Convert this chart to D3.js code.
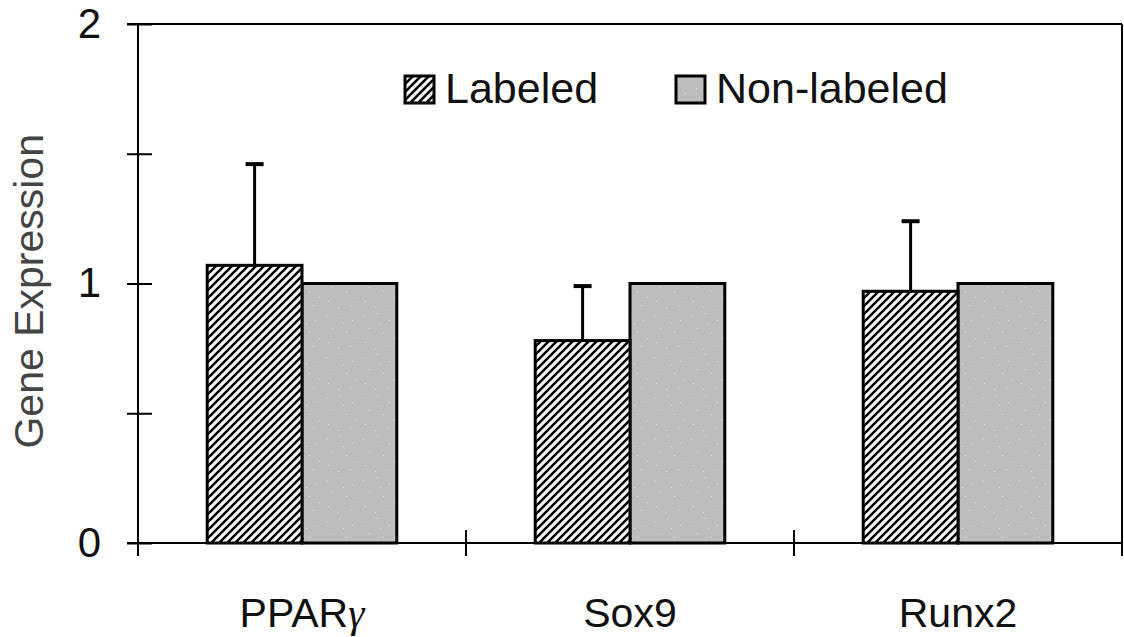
<!DOCTYPE html>
<html>
<head>
<meta charset="utf-8">
<script src="https://cdn.jsdelivr.net/npm/d3@7"></script>
<style>
  body { margin: 0; background: #fff; }
  svg { display: block; font-family: "Liberation Sans", Arial, sans-serif; }
</style>
</head>
<body>
<div id="chart"></div>
<script>
// Dados
const genes = ["PPARγ", "Sox9", "Runx2"];
const series = ["Labeled", "Non-labeled"];
const labeledValues = [1.07, 0.78, 0.97];
const labeledErrors = [0.39, 0.21, 0.27];
const nonLabeledValues = [1.0, 1.0, 1.0];
const yTicks = [0, 0.5, 1, 1.5, 2];

const width = 1124, height = 637;
const margin = { top: 24, right: 2, bottom: 94, left: 138 };
const innerW = width - margin.left - margin.right;
const innerH = height - margin.top - margin.bottom;

const svg = d3.select("#chart").append("svg")
    .attr("width", width)
    .attr("height", height);

// Padrões (hachura e cinza pontilhado)
const defs = svg.append("defs");
const hatch = defs.append("pattern")
    .attr("id", "hatch")
    .attr("patternUnits", "userSpaceOnUse")
    .attr("width", 8).attr("height", 8);
hatch.append("rect").attr("width", 8).attr("height", 8).attr("fill", "#fff");
hatch.append("path")
    .attr("d", "M-2,2 L2,-2 M0,8 L8,0 M6,10 L10,6")
    .attr("stroke", "#000")
    .attr("stroke-width", 2.6);

const speck = defs.append("pattern")
    .attr("id", "speck")
    .attr("patternUnits", "userSpaceOnUse")
    .attr("width", 37).attr("height", 41);
speck.append("rect").attr("width", 37).attr("height", 41).attr("fill", "#bdbdbd");
speck.append("path")
    .attr("d", "M3,5h1v1h-1z M17,2h1v1h-1z M29,9h1v1h-1z M9,17h1v1h-1z M23,21h1v1h-1z M33,27h1v1h-1z M5,31h1v1h-1z M15,37h1v1h-1z M27,35h1v1h-1z M20,12h1v1h-1z")
    .attr("fill", "#e2e2e2");

const g = svg.append("g").attr("transform", `translate(${margin.left},${margin.top})`);

// Escalas
const x0 = d3.scaleBand().domain(genes).range([0, innerW]);
const x1 = d3.scaleBand().domain(series).range([0, x0.bandwidth()]).paddingInner(0).paddingOuter(0.73);
const y = d3.scaleLinear().domain([0, 2]).range([innerH, 0]);

// Moldura (topo e direita)
g.append("line").attr("x1", -11).attr("x2", innerW).attr("y1", 0).attr("y2", 0)
    .attr("stroke", "#000").attr("stroke-width", 2);
g.append("line").attr("x1", innerW).attr("x2", innerW).attr("y1", 0).attr("y2", innerH + 13)
    .attr("stroke", "#000").attr("stroke-width", 2);

// Eixo Y
const yAxis = g.append("g")
    .call(d3.axisLeft(y).tickValues(yTicks).tickSize(11).tickPadding(26)
        .tickFormat(d => Number.isInteger(d) ? d : ""));
yAxis.select(".domain").remove();
yAxis.selectAll(".tick line").attr("x2", 14).attr("x1", -11).attr("stroke-width", 2);
yAxis.selectAll(".tick text").attr("font-size", 42).attr("fill", "#111")
    .attr("font-family", "Liberation Sans, Arial, sans-serif");
g.append("line").attr("x1", 0).attr("x2", 0).attr("y1", 0).attr("y2", innerH + 13)
    .attr("stroke", "#000").attr("stroke-width", 2);

// Eixo X
g.append("line").attr("x1", -11).attr("x2", innerW).attr("y1", innerH).attr("y2", innerH)
    .attr("stroke", "#000").attr("stroke-width", 2);
g.selectAll(".xtick")
    .data(genes.slice(1).map(d => x0(d)).concat([innerW]))
    .enter().append("line")
    .attr("x1", d => d).attr("x2", d => d)
    .attr("y1", innerH - 13).attr("y2", innerH + 13)
    .attr("stroke", "#000").attr("stroke-width", 2);

const catLabels = g.selectAll(".cat")
    .data(genes)
    .enter().append("text")
    .attr("x", d => x0(d) + x0.bandwidth() / 2)
    .attr("y", innerH + 84)
    .attr("text-anchor", "middle")
    .attr("font-size", 41)
    .attr("fill", "#111");
catLabels.each(function(d) {
    const t = d3.select(this);
    if (d.endsWith("γ")) {
        t.append("tspan").text(d.slice(0, -1));
        t.append("tspan").text("γ").attr("font-family", "Liberation Serif, serif").attr("font-style", "italic");
    } else {
        t.text(d);
    }
});

// Rótulo do eixo Y
svg.append("text")
    .attr("transform", `translate(43,${margin.top + y(0.97)}) rotate(-90)`)
    .attr("text-anchor", "middle")
    .attr("font-size", 41)
    .attr("fill", "#444")
    .text("Gene Expression");

// Barras
const groups = g.selectAll(".grp")
    .data(genes)
    .enter().append("g")
    .attr("transform", d => `translate(${x0(d)},0)`);

groups.append("rect")
    .attr("x", x1("Non-labeled"))
    .attr("width", x1.bandwidth())
    .attr("y", (d, i) => y(nonLabeledValues[i]))
    .attr("height", (d, i) => y(0) - y(nonLabeledValues[i]))
    .attr("fill", "url(#speck)")
    .attr("stroke", "#000").attr("stroke-width", 3);

groups.append("rect")
    .attr("x", x1("Labeled"))
    .attr("width", x1.bandwidth())
    .attr("y", (d, i) => y(labeledValues[i]))
    .attr("height", (d, i) => y(0) - y(labeledValues[i]))
    .attr("fill", "url(#hatch)")
    .attr("stroke", "#000").attr("stroke-width", 3);

// Barras de erro
const cx = x1("Labeled") + x1.bandwidth() / 2;
groups.append("line")
    .attr("x1", cx).attr("x2", cx)
    .attr("y1", (d, i) => y(labeledValues[i]))
    .attr("y2", (d, i) => y(labeledValues[i] + labeledErrors[i]))
    .attr("stroke", "#000").attr("stroke-width", 3);
groups.append("line")
    .attr("x1", cx - 9).attr("x2", cx + 9)
    .attr("y1", (d, i) => y(labeledValues[i] + labeledErrors[i]))
    .attr("y2", (d, i) => y(labeledValues[i] + labeledErrors[i]))
    .attr("stroke", "#000").attr("stroke-width", 4);

// Legenda
const legend = svg.append("g");
const legendItems = [
    { name: "Labeled", x: 405, fill: "url(#hatch)" },
    { name: "Non-labeled", x: 676, fill: "url(#speck)" }
];
const li = legend.selectAll("g").data(legendItems).enter().append("g")
    .attr("transform", d => `translate(${d.x},76)`);
li.append("rect").attr("width", 29).attr("height", 27)
    .attr("fill", d => d.fill).attr("stroke", "#000").attr("stroke-width", 3);
li.append("text").attr("x", 40).attr("y", 27)
    .attr("font-size", 43).attr("fill", "#111")
    .text(d => d.name);
</script>
</body>
</html>
